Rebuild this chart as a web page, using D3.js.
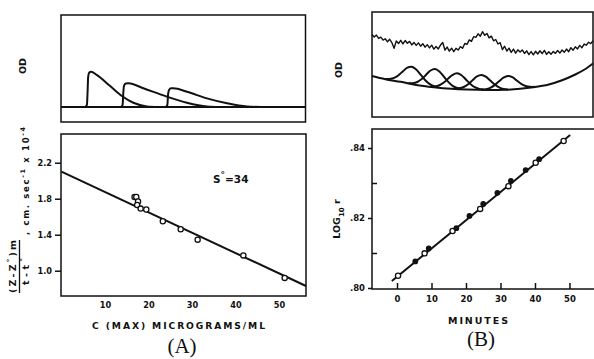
<!DOCTYPE html>
<html>
<head>
<meta charset="utf-8">
<script src="https://cdn.jsdelivr.net/npm/d3@7"></script>
<style>
  body { margin: 0; background: #fff; }
  svg { display: block; }
  text { font-family: "DejaVu Sans", sans-serif; font-weight: bold; fill: #111; }
  .serif { font-family: "Liberation Serif", serif; font-weight: normal; }
</style>
</head>
<body>
<svg id="fig" width="594" height="359"></svg>
<script>
// ---- panel A, top: boundary traces (x and OD in % of the frame)
const peaksA = [
  [[9.8,14],[10.6,16],[10.9,30],[11.1,42],[11.5,46],[12.3,47],[14.6,44],[20.1,33.6],[24.9,24.3],[29.6,18],[35.1,14.6],[40,14]],
  [[24.5,14],[25.2,16],[25.5,28],[25.8,34],[26.5,36],[27.6,36.3],[33.7,31.5],[43.3,23.7],[51.5,18],[59.7,14.5],[65,14]],
  [[42.9,14],[43.5,16],[43.8,26],[44.2,30],[45,31.5],[46,31.5],[51.5,28.3],[59.7,22.1],[67.9,17.5],[76.1,14.5],[82,14]]
];
const baseA = [[0,14],[100,14]];

// ---- panel A, bottom: sedimentation coefficient vs concentration
const concA = [16.8, 17.2, 17.6, 17.4, 18.2, 19.5, 23.3, 27.4, 31.3, 41.8, 51.3];
const rateA = [1.82, 1.82, 1.77, 1.73, 1.69, 1.68, 1.55, 1.46, 1.345, 1.17, 0.92];
const fitA = [[0, 2.10], [56.2, 0.83]];
const yTicksA = [1.0, 1.4, 1.8, 2.2];
const xTicksA = [10, 20, 30, 40, 50];

// ---- panel B, top: noisy scan, curved baseline and gaussian bands
const traceB = [
  78.5,76.2,78,74.8,76,73.2,74.5,71.6,74,70.8,
  65.5,72.5,70,73,69.6,72.8,70.2,72,68.6,71,
  68.2,70.6,67.4,69.8,66.5,68.9,65.8,68.4,64.6,67.2,
  64.8,68.5,71,63.8,66.6,62.7,65.5,62.2,65.4,63.8,
  67,65.5,70,69.2,73.4,72,76.5,75.8,79.2,77,
  81.2,77.8,79.6,75.4,77,72.6,73.8,69.5,70.8,64.2,
  67.4,62.8,65.6,61.5,64.6,60.8,64,61.9,63.9,60.5,
  63,59.4,62.3,59.2,62.6,60,63.1,60.3,63.4,59.6,
  62.1,59.7,62.4,60.6,63.3,60.9,63.8,61.6,64.7,62.2,
  66,63.6,66.9,64.8,68.2,66,69.5,68.4,71.2,69.9,
  72.6];
const baseB = [[0,39],[6,36],[13,33.5],[20,30.5],[28,28.3],[36,26.8],[43,26.1],[52,25.7],[60,25.9],[67,26.8],
  [73,28.3],[80,31],[86,35],[92,40.5],[96,45],[100,51]];
const peaksB = [
  [[6,36.3],[8,36.3],[10,37.3],[12,39.8],[14,43.6],[16,47],[18,47.9],[20,45.2],[22,40.4],[24,35.3],[26,31.5],[28,29.3],[30,28.2]],
  [[16.5,32.4],[18.5,32.2],[20.5,33.3],[22.5,36.1],[24.5,40.3],[26.5,44.3],[28.5,45.7],[30.5,43.4],[32.5,38.5],[34.5,33.4],[36.5,29.6],[38.5,27.6],[40.5,26.7]],
  [[26.5,29],[28.5,29.1],[30.5,30.2],[32.5,32.8],[34.5,36.6],[36.5,40.2],[38.5,41.6],[40.5,39.8],[42.5,35.7],[44.5,31.5],[46.5,28.4],[48.5,26.8],[50.5,26.1]],
  [[37.5,26.9],[39.5,27.3],[41.5,28.6],[43.5,31.2],[45.5,35],[47.5,38.6],[49.5,40],[51.5,38.4],[53.5,34.7],[55.5,30.9],[57.5,28.2],[59.5,26.7],[61.5,26.3]],
  [[49.5,26],[51.5,26.5],[53.5,27.8],[55.5,30.4],[57.5,34],[59.5,37.4],[61.5,39],[63.5,37.9],[65.5,34.8],[67.5,31.5],[69.5,29.5],[71.5,28.7],[73.5,28.7]]
];

// ---- panel B, bottom: log10 r vs time
const minOpen = [0.3, 8.0, 16.1, 24.1, 32.3, 40.2, 48.3];
const logOpen = [.8035, .8099, .8163, .8226, .8291, .8358, .8420];
const minFilled = [5.3, 9.2, 17.2, 21.0, 25.0, 29.1, 33.0, 37.3, 41.2];
const logFilled = [.8076, .8113, .8171, .8206, .8240, .8272, .8306, .8337, .8368];
const fitB = [[-1.5, .8020], [50.2, .8437]];
const yTicksB = [.80, .82, .84];
const yMinorB = [.81, .83];
const xTicksB = [0, 10, 20, 30, 40, 50];

const svg = d3.select('#fig');
const ink = '#111';

function frame(x, y) {
  const [x0, x1] = x.range(), [y0, y1] = y.range();
  svg.append('rect')
    .attr('x', x0).attr('y', y1)
    .attr('width', x1 - x0).attr('height', y0 - y1)
    .attr('fill', 'none').attr('stroke', ink).attr('stroke-width', 1.5);
}

function path(data, x, y, curve, width) {
  svg.append('path')
    .datum(data)
    .attr('d', d3.line().x(d => x(d[0])).y(d => y(d[1])).curve(curve))
    .attr('fill', 'none').attr('stroke', ink)
    .attr('stroke-width', width).attr('stroke-linejoin', 'round');
}

function vlabel(x, y, size, parts, len) {
  const t = svg.append('text')
    .attr('transform', `translate(${x},${y}) rotate(-90)`)
    .attr('text-anchor', 'middle').attr('font-size', size);
  parts.forEach(p => {
    const s = t.append('tspan').text(p[0]);
    if (p[1]) s.attr('baseline-shift', p[1]).attr('font-size', size * 0.75);
  });
  if (len) t.attr('textLength', len).attr('lengthAdjust', 'spacing');
  return t;
}

// ================= A top
const xA1 = d3.scaleLinear([0, 100], [61, 305.5]);
const yA1 = d3.scaleLinear([0, 100], [122, 15]);
frame(xA1, yA1);
path(baseA, xA1, yA1, d3.curveLinear, 1.8);
peaksA.forEach(p => path(p, xA1, yA1, d3.curveMonotoneX, 2));
vlabel(26, 66, 9.5, [['OD']]);

// ================= A bottom
const xA = d3.scaleLinear([-0.1, 56.2], [61, 306]);
const yA = d3.scaleLinear([0.719, 2.519], [296, 134]);
frame(xA, yA);

const gyA = svg.append('g').attr('transform', `translate(${xA.range()[0]},0)`)
  .call(d3.axisLeft(yA).tickValues(yTicksA).tickSize(6).tickPadding(3).tickFormat(d3.format('.1f')));
const gxA = svg.append('g').attr('transform', `translate(0,${yA.range()[0]})`)
  .call(d3.axisBottom(xA).tickValues(xTicksA).tickSize(0).tickPadding(6));
[gyA, gxA].forEach(g => {
  g.select('.domain').remove();
  g.selectAll('line').attr('stroke', ink).attr('stroke-width', 1.5);
  g.selectAll('text').attr('font-family', null).attr('font-size', 8.2).attr('fill', ink);
});

path(fitA, xA, yA, d3.curveLinear, 2);
svg.append('g').selectAll('circle')
  .data(concA.map((c, i) => [c, rateA[i]]))
  .join('circle')
  .attr('cx', d => xA(d[0])).attr('cy', d => yA(d[1])).attr('r', 2.6)
  .attr('fill', '#fff').attr('stroke', ink).attr('stroke-width', 1.3);

const sLab = svg.append('text').attr('x', 213).attr('y', 182.5).attr('font-size', 10.5);
sLab.append('tspan').text('S');
sLab.append('tspan').text('°').attr('baseline-shift', 'super').attr('font-size', 9);
sLab.append('tspan').text('=34');

svg.append('text').attr('x', 178.5).attr('y', 329).attr('text-anchor', 'middle')
  .attr('font-size', 9.2).attr('textLength', 173).attr('lengthAdjust', 'spacing')
  .text('C (MAX) MICROGRAMS/ML');

// y label of A: fraction plus units
vlabel(16, 266.5, 9.5, [['(Z-Z'], ['°', 'super'], [')m']], 53);
svg.append('line').attr('x1', 19.5).attr('x2', 19.5).attr('y1', 240).attr('y2', 293)
  .attr('stroke', ink).attr('stroke-width', 1.3);
vlabel(29, 271.5, 9.5, [['t-t'], ['°', 'super']], 27);
vlabel(29, 181, 8.5, [[', cm. sec'], ['-1', 'super'], [' x 10'], ['-4', 'super']], 108);

svg.append('text').attr('class', 'serif').attr('x', 182).attr('y', 352.5)
  .attr('text-anchor', 'middle').attr('font-size', 21).text('(A)');

// ================= B top
const xB1 = d3.scaleLinear([0, 100], [372, 593]);
const yB1 = d3.scaleLinear([0, 100], [117, 12]);
frame(xB1, yB1);
path(traceB.map((v, i) => [i, v]), xB1, yB1, d3.curveLinear, 1.4);
path(baseB, xB1, yB1, d3.curveCatmullRom, 2);
peaksB.forEach(p => path(p, xB1, yB1, d3.curveCatmullRom, 2));
vlabel(342, 70, 9.5, [['OD']]);

// ================= B bottom
const xB = d3.scaleLinear([-7.25, 58.85], [372, 600]);
const yB = d3.scaleLinear([.79971, .84543], [289, 129]);
frame(xB, yB);

const fmtB = d => d.toFixed(2).replace(/^0/, '');
const gyB = svg.append('g').attr('transform', `translate(${xB.range()[0]},0)`)
  .call(d3.axisLeft(yB).tickValues(yTicksB).tickSize(4).tickPadding(3).tickFormat(fmtB));
const gyB2 = svg.append('g').attr('transform', `translate(${xB.range()[0]},0)`)
  .call(d3.axisLeft(yB).tickValues(yMinorB).tickSize(-5).tickFormat(''));
const gxB = svg.append('g').attr('transform', `translate(0,${yB.range()[0]})`)
  .call(d3.axisBottom(xB).tickValues(xTicksB).tickSize(-6).tickPadding(6.5));
[gyB, gyB2, gxB].forEach(g => {
  g.select('.domain').remove();
  g.selectAll('line').attr('stroke', ink).attr('stroke-width', 1.5);
  g.selectAll('text').attr('font-family', null).attr('font-size', 8.5).attr('fill', ink);
});

path(fitB, xB, yB, d3.curveLinear, 2);
svg.append('g').selectAll('circle')
  .data(minOpen.map((m, i) => [m, logOpen[i]]))
  .join('circle')
  .attr('cx', d => xB(d[0])).attr('cy', d => yB(d[1])).attr('r', 2.6)
  .attr('fill', '#fff').attr('stroke', ink).attr('stroke-width', 1.3);
svg.append('g').selectAll('circle')
  .data(minFilled.map((m, i) => [m, logFilled[i]]))
  .join('circle')
  .attr('cx', d => xB(d[0])).attr('cy', d => yB(d[1])).attr('r', 2.9)
  .attr('fill', ink);

const lg = svg.append('text')
  .attr('transform', 'translate(340,219) rotate(-90)')
  .attr('text-anchor', 'middle').attr('font-size', 9.5);
lg.append('tspan').text('LOG');
lg.append('tspan').text('10').attr('baseline-shift', 'sub').attr('font-size', 7);
lg.append('tspan').text(' r');

svg.append('text').attr('x', 478).attr('y', 323.5).attr('text-anchor', 'middle')
  .attr('font-size', 9.5).attr('textLength', 60).attr('lengthAdjust', 'spacing')
  .text('MINUTES');

svg.append('text').attr('class', 'serif').attr('x', 481).attr('y', 346)
  .attr('text-anchor', 'middle').attr('font-size', 21).text('(B)');
</script>
</body>
</html>
